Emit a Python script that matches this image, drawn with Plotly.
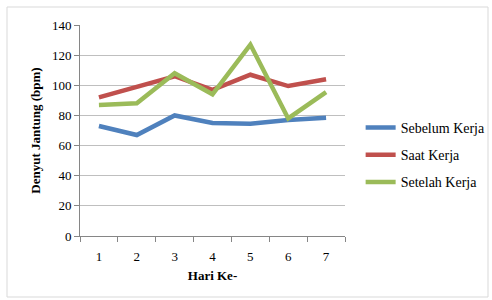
import plotly.graph_objects as go

days = [1, 2, 3, 4, 5, 6, 7]
sebelum = [73, 67, 80, 75, 74.5, 77, 78.5]
saat = [92, 99, 106, 97, 107, 99.5, 104]
setelah = [87, 88, 108, 94, 127, 78, 95.5]

series = [("Sebelum Kerja", sebelum, "#4F81BD"),
          ("Saat Kerja", saat, "#C0504D"),
          ("Setelah Kerja", setelah, "#9BBB59")]

fig = go.Figure()
for name, vals, col in series:
    fig.add_trace(go.Scatter(x=days, y=vals, mode="lines", name=name, legendgroup=name,
                             line=dict(color=col, width=4.5)))

font = "Liberation Serif"
fig.update_layout(
    width=492, height=300,
    margin=dict(l=80, r=147, t=25, b=64, autoexpand=False),
    paper_bgcolor="white", plot_bgcolor="white",
    font=dict(family=font, size=13, color="black"),
    showlegend=True,
    legend=dict(x=1.059, y=0.384, xanchor="left", yanchor="middle",
                font=dict(family=font, size=14, color="black"),
                traceorder="grouped", tracegroupgap=6,
                itemwidth=30, bgcolor="rgba(0,0,0,0)"),
    xaxis=dict(range=[0.5, 7.5], tickvals=days, ticktext=[str(d) for d in days],
               automargin=False, tickfont=dict(family=font, size=13),
               showgrid=False, zeroline=False, showline=True, linecolor="#868686",
               linewidth=1, ticks="", ticklabelstandoff=8,
               minor=dict(tickvals=[0.5 + i for i in range(8)], ticks="outside",
                          ticklen=5, tickcolor="#868686", showgrid=False),
               title=dict(text="<b>Hari Ke-</b>", font=dict(family=font, size=13), standoff=8)),
    yaxis=dict(range=[0, 140], dtick=20, showgrid=True, gridcolor="#BFBFBF", gridwidth=1,
               automargin=False, tickfont=dict(family=font, size=13),
               zeroline=False, showline=True, linecolor="#868686", linewidth=1,
               ticks="outside", ticklen=5, tickcolor="#868686",
               title=dict(text="<b>Denyut Jantung (bpm)</b>", font=dict(family=font, size=13), standoff=8)),
)

# outer chart border
fig.add_shape(type="rect", xref="paper", yref="paper",
              x0=(7 - 80) / 265, x1=(488 - 80) / 265,
              y0=(236 - 297) / 211, y1=(236 - 7) / 211,
              line=dict(color="#D9D9D9", width=1), layer="below")

fig.write_html("out.html", config={"displayModeBar": False},
               post_script="document.body.style.margin='0';document.body.style.padding='0';")
